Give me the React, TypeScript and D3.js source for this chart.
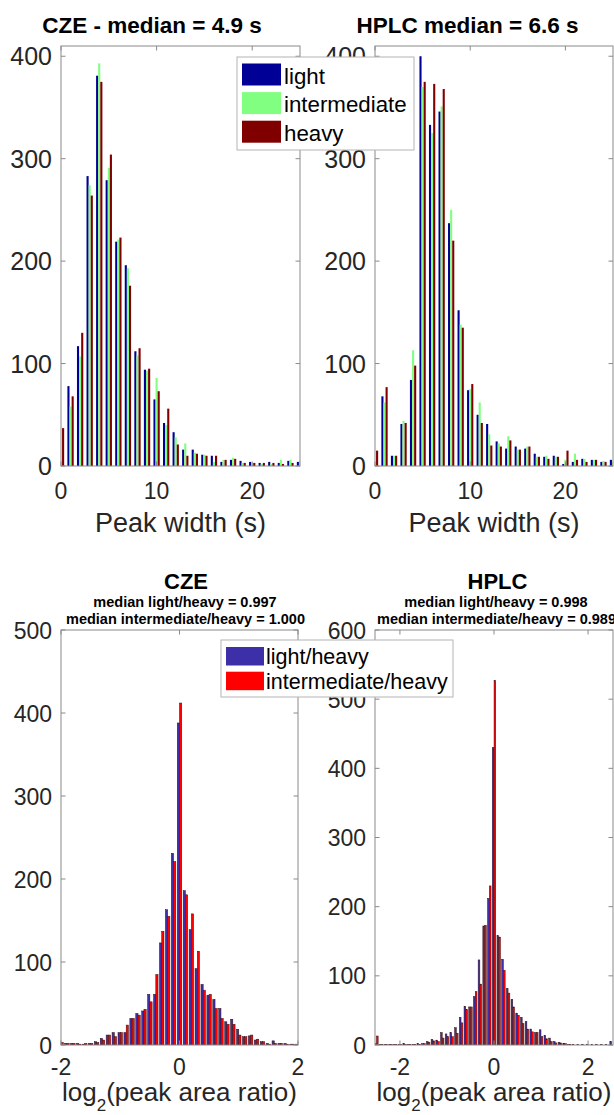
import React from 'react';
import * as d3 from 'd3';

// ---------- data ----------
const widthBins = [0, 1, 2, 3, 4, 5, 6, 7, 8, 9, 10, 11, 12, 13, 14, 15, 16, 17, 18, 19, 20, 21, 22, 23, 24, 25];
const czeWidthLight = [0, 78, 117, 283, 381, 279, 219, 196, 112, 94, 65, 42, 33, 16, 16, 11, 10, 4, 6, 5, 4, 3, 4, 3, 5, 4];
const czeWidthInter = [0, 58, 107, 274, 393, 291, 221, 193, 108, 93, 86, 40, 28, 22, 13, 11, 4, 6, 8, 3, 3, 2, 2, 6, 6, 5];
const czeWidthHeavy = [37, 68, 130, 264, 375, 304, 223, 176, 115, 95, 73, 56, 21, 10, 12, 10, 10, 6, 7, 3, 3, 3, 3, 2, 3, 4];
const hplcWidthLight = [0, 68, 10, 41, 84, 400, 333, 346, 237, 152, 74, 50, 41, 24, 17, 19, 17, 12, 9, 10, 2, 4, 7, 6, 4, 6];
const hplcWidthInter = [0, 62, 10, 44, 113, 370, 325, 351, 250, 138, 75, 62, 31, 22, 29, 16, 19, 9, 10, 9, 6, 12, 7, 6, 5, 4];
const hplcWidthHeavy = [15, 77, 10, 42, 98, 375, 373, 368, 220, 135, 80, 42, 20, 19, 25, 16, 19, 9, 7, 9, 15, 6, 4, 6, 4, 3];

const czeRatioBins = [-2.0, -1.9, -1.8, -1.7, -1.6, -1.5, -1.4, -1.3, -1.2, -1.1, -1.0, -0.9, -0.8, -0.7, -0.6, -0.5, -0.4, -0.3, -0.2, -0.1, 0.0,
  0.1, 0.2, 0.3, 0.4, 0.5, 0.6, 0.7, 0.8, 0.9, 1.0, 1.1, 1.2, 1.3, 1.4, 1.5, 1.6, 1.7, 1.8, 1.9, 2.0];
const czeRatioLightHeavy = [3, 2, 2, 2, 1, 2, 4, 8, 12, 15, 15, 15, 32, 38, 41, 61, 61, 123, 163, 231, 388,
  186, 139, 92, 73, 60, 55, 44, 28, 31, 19, 10, 11, 6, 4, 2, 5, 2, 2, 1, 1];
const czeRatioInterHeavy = [3, 2, 2, 1, 2, 2, 3, 6, 12, 10, 15, 24, 32, 36, 43, 52, 85, 137, 155, 221, 412,
  181, 158, 113, 66, 61, 44, 32, 25, 25, 12, 10, 12, 7, 4, 1, 2, 2, 1, 1, 1];

const hplcRatioBins = [-2.5, -2.4, -2.3, -2.2, -2.1, -2.0, -1.9, -1.8, -1.7, -1.6, -1.5, -1.4, -1.3, -1.2, -1.1, -1.0, -0.9, -0.8, -0.7, -0.6, -0.5, -0.4, -0.3, -0.2, -0.1, 0.0,
  0.1, 0.2, 0.3, 0.4, 0.5, 0.6, 0.7, 0.8, 0.9, 1.0, 1.1, 1.2, 1.3, 1.4, 1.5, 1.6, 1.7, 1.8, 1.9, 2.0, 2.1, 2.2, 2.3, 2.4, 2.5];
const hplcRatioLightHeavy = [2, 1, 1, 1, 1, 1, 2, 1, 1, 2, 2, 5, 8, 7, 18, 16, 18, 25, 40, 56, 55, 70, 123, 172, 212, 430,
  158, 124, 82, 66, 46, 40, 34, 23, 18, 22, 14, 10, 5, 4, 2, 1, 1, 1, 1, 1, 1, 1, 1, 1, 5];
const hplcRatioInterHeavy = [13, 1, 1, 1, 1, 1, 1, 1, 1, 1, 2, 4, 6, 5, 10, 12, 12, 17, 32, 51, 55, 77, 88, 173, 230, 527,
  156, 108, 75, 55, 43, 31, 23, 19, 18, 12, 9, 5, 3, 3, 2, 1, 0, 0, 0, 0, 0, 0, 0, 0, 0];

const widthTicksX = [0, 10, 20];
const widthTicksY = [0, 100, 200, 300, 400];
const ratioTicksX = [-2, 0, 2];
const czeRatioTicksY = [0, 100, 200, 300, 400, 500];
const hplcRatioTicksY = [0, 100, 200, 300, 400, 500, 600];

const widthLegend = ['light', 'intermediate', 'heavy'];
const widthColors = ['#000096', '#80ff80', '#800000'];
const ratioLegend = ['light/heavy', 'intermediate/heavy'];
const ratioColors = ['#3c2fa8', '#ff0000'];

const FONT = '"Liberation Sans", Arial, Helvetica, sans-serif';
const AXIS = '#8a8a8a';
const TXT = '#262626';

type Series = { values: number[]; color: string };

type PanelProps = {
  id: string;
  left: number; right: number; top: number; bottom: number;
  xDomain: [number, number]; yDomain: [number, number];
  xTicks: number[]; yTicks: number[];
  bins: number[]; series: Series[];
  barW: number; offsets: number[];
  barStroke?: string;
  yTickSize: number; yTickDy: number;
  xTickSize: number; xTickBaseline: number;
};

function Panel(p: PanelProps) {
  const xs = d3.scaleLinear().domain(p.xDomain).range([p.left, p.right]);
  const ys = d3.scaleLinear().domain(p.yDomain).range([p.bottom, p.top]);
  const tl = 4.5;
  return (
    <g>
      <defs>
        <clipPath id={p.id}>
          <rect x={p.left} y={p.top} width={p.right - p.left} height={p.bottom - p.top} />
        </clipPath>
      </defs>
      <g clipPath={`url(#${p.id})`}>
        {p.series.map((s, si) =>
          p.bins.map((b, bi) => {
            const v = s.values[bi];
            if (!v) return null;
            const c = b + p.offsets[si];
            const x0 = xs(c - p.barW / 2);
            const x1 = xs(c + p.barW / 2);
            return (
              <rect key={`${si}-${bi}`} x={x0} y={ys(v)} width={x1 - x0} height={ys(0) - ys(v)}
                fill={s.color} stroke={p.barStroke || 'none'} strokeWidth={p.barStroke ? 0.5 : 0} />
            );
          })
        )}
      </g>
      <rect x={p.left} y={p.top} width={p.right - p.left} height={p.bottom - p.top} fill="none" stroke={AXIS} strokeWidth={1} />
      {p.xTicks.map(t => (
        <g key={'xt' + t}>
          <line x1={xs(t)} x2={xs(t)} y1={p.bottom} y2={p.bottom - tl} stroke={AXIS} />
          <line x1={xs(t)} x2={xs(t)} y1={p.top} y2={p.top + tl} stroke={AXIS} />
          <text x={xs(t)} y={p.xTickBaseline} textAnchor="middle" fontSize={p.xTickSize} fill={TXT} fontFamily={FONT}>{String(t)}</text>
        </g>
      ))}
      {p.yTicks.map(t => (
        <g key={'yt' + t}>
          <line x1={p.left} x2={p.left + tl} y1={ys(t)} y2={ys(t)} stroke={AXIS} />
          <line x1={p.right} x2={p.right - tl} y1={ys(t)} y2={ys(t)} stroke={AXIS} />
          <text x={p.left - 9} y={ys(t) + p.yTickDy} textAnchor="end" fontSize={p.yTickSize} fill={TXT} fontFamily={FONT}>{String(t)}</text>
        </g>
      ))}
    </g>
  );
}

export default function App() {
  const widthOffsets = [-0.22, 0, 0.22];
  const ratioOffsets = [-0.019, 0.019];
  return (
    <div style={{ position: 'absolute', left: 0, top: 0 }}>
      <svg width={614} height={1115} style={{ display: 'block', background: '#fff' }}>
        <rect x={0} y={0} width={614} height={1115} fill="#fff" />
        {/* ---- top-left: CZE peak width ---- */}
        <Panel id="c1" left={61} right={300} top={46} bottom={466}
          xDomain={[0, 25]} yDomain={[0, 410]} xTicks={widthTicksX} yTicks={widthTicksY}
          bins={widthBins}
          series={[{ values: czeWidthLight, color: widthColors[0] }, { values: czeWidthInter, color: widthColors[1] }, { values: czeWidthHeavy, color: widthColors[2] }]}
          barW={0.22} offsets={widthOffsets}
          yTickSize={25} yTickDy={9} xTickSize={23} xTickBaseline={499} />
        <text x={152} y={33} textAnchor="middle" fontSize={22.5} fontWeight="bold" fill="#000" fontFamily={FONT}>CZE - median = 4.9 s</text>
        <text x={180.5} y={532} textAnchor="middle" fontSize={27} fill={TXT} fontFamily={FONT}>Peak width (s)</text>

        {/* ---- top-right: HPLC peak width ---- */}
        <Panel id="c2" left={375} right={613} top={46} bottom={466}
          xDomain={[0, 25]} yDomain={[0, 410]} xTicks={widthTicksX} yTicks={widthTicksY}
          bins={widthBins}
          series={[{ values: hplcWidthLight, color: widthColors[0] }, { values: hplcWidthInter, color: widthColors[1] }, { values: hplcWidthHeavy, color: widthColors[2] }]}
          barW={0.22} offsets={widthOffsets}
          yTickSize={25} yTickDy={9} xTickSize={23} xTickBaseline={499} />
        <text x={467.5} y={33} textAnchor="middle" fontSize={22.5} fontWeight="bold" fill="#000" fontFamily={FONT}>HPLC median = 6.6 s</text>
        <text x={494} y={532} textAnchor="middle" fontSize={27} fill={TXT} fontFamily={FONT}>Peak width (s)</text>

        {/* legend top */}
        <g>
          <rect x={237} y={57} width={177} height={93} fill="#fff" stroke="#b4b4b4" strokeWidth={1} />
          {widthLegend.map((name, i) => (
            <g key={name}>
              <rect x={242} y={63.5 + i * 28.6} width={39} height={22} fill={widthColors[i]} />
              <text x={284} y={83.5 + i * 28.6} fontSize={22.3} fill="#000" fontFamily={FONT}>{name}</text>
            </g>
          ))}
        </g>

        {/* ---- bottom-left: CZE ratio ---- */}
        <Panel id="c3" left={61} right={298} top={630} bottom={1045}
          xDomain={[-2, 2]} yDomain={[0, 500]} xTicks={ratioTicksX} yTicks={czeRatioTicksY}
          bins={czeRatioBins}
          series={[{ values: czeRatioLightHeavy, color: ratioColors[0] }, { values: czeRatioInterHeavy, color: ratioColors[1] }]}
          barW={0.038} offsets={ratioOffsets} barStroke="#3a1010"
          yTickSize={23} yTickDy={8.5} xTickSize={23} xTickBaseline={1075} />
        <text x={186} y={589} textAnchor="middle" fontSize={22} fontWeight="bold" fill="#000" fontFamily={FONT}>CZE</text>
        <text x={185} y={606.5} textAnchor="middle" fontSize={14.5} fontWeight="bold" fill="#000" fontFamily={FONT}>median light/heavy = 0.997</text>
        <text x={185.5} y={624} textAnchor="middle" fontSize={14.5} fontWeight="bold" fill="#000" fontFamily={FONT}>median intermediate/heavy = 1.000</text>
        <text x={179.5} y={1101} textAnchor="middle" fontSize={26} fill={TXT} fontFamily={FONT}>
          <tspan>log</tspan><tspan fontSize={17} dy={10}>2</tspan><tspan dy={-10}>(peak area ratio)</tspan>
        </text>

        {/* ---- bottom-right: HPLC ratio ---- */}
        <Panel id="c4" left={375} right={613} top={630} bottom={1045}
          xDomain={[-2.53, 2.53]} yDomain={[0, 600]} xTicks={ratioTicksX} yTicks={hplcRatioTicksY}
          bins={hplcRatioBins}
          series={[{ values: hplcRatioLightHeavy, color: ratioColors[0] }, { values: hplcRatioInterHeavy, color: ratioColors[1] }]}
          barW={0.036} offsets={ratioOffsets} barStroke="#3a1010"
          yTickSize={23} yTickDy={8.5} xTickSize={23} xTickBaseline={1075} />
        <text x={497.5} y={589} textAnchor="middle" fontSize={22} fontWeight="bold" fill="#000" fontFamily={FONT}>HPLC</text>
        <text x={496} y={606.5} textAnchor="middle" fontSize={14.5} fontWeight="bold" fill="#000" fontFamily={FONT}>median light/heavy = 0.998</text>
        <text x={496.5} y={624} textAnchor="middle" fontSize={14.5} fontWeight="bold" fill="#000" fontFamily={FONT}>median intermediate/heavy = 0.989</text>
        <text x={494} y={1101} textAnchor="middle" fontSize={26} fill={TXT} fontFamily={FONT}>
          <tspan>log</tspan><tspan fontSize={17} dy={10}>2</tspan><tspan dy={-10}>(peak area ratio)</tspan>
        </text>

        {/* legend bottom */}
        <g>
          <rect x={221} y={640} width={232} height={57} fill="#fff" stroke="#b4b4b4" strokeWidth={1} />
          {ratioLegend.map((name, i) => (
            <g key={name}>
              <rect x={226} y={647 + i * 24.7} width={38} height={18.5} fill={ratioColors[i]} />
              <text x={266} y={664 + i * 24.7} fontSize={21.5} fill="#000" fontFamily={FONT}>{name}</text>
            </g>
          ))}
        </g>
      </svg>
    </div>
  );
}
